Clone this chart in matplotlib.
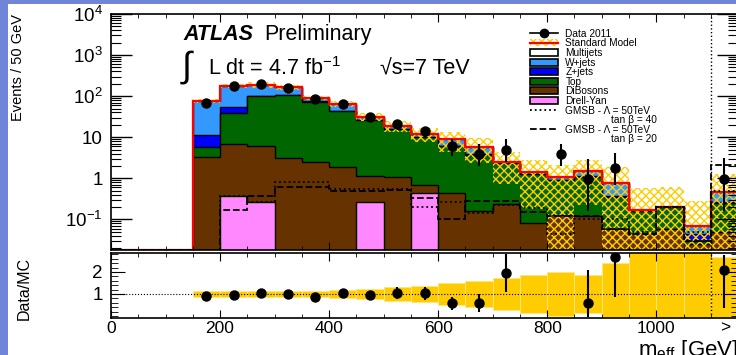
import numpy as np
import matplotlib
matplotlib.use('Agg')
import matplotlib.pyplot as plt
from matplotlib.patches import Patch, Rectangle
from matplotlib.lines import Line2D
from matplotlib.ticker import MultipleLocator, LogLocator, FixedLocator, NullFormatter

plt.rcParams['font.family'] = ['Liberation Sans', 'DejaVu Sans']
plt.rcParams['mathtext.fontset'] = 'custom'
plt.rcParams['mathtext.rm'] = 'Liberation Sans'
plt.rcParams['mathtext.it'] = 'Liberation Sans:italic'
plt.rcParams['mathtext.bf'] = 'Liberation Sans:bold'
plt.rcParams['hatch.linewidth'] = 1.0

nan = np.nan

# m_eff bins of 50 GeV, the last one (1100-1150) is the overflow bin
bin_edges = np.arange(0, 1151, 50)

# MC backgrounds (events per bin)
drell_yan = [0, 0, 0, 0, 0.37, 0.26, 0, 0, 0, 0.26, 0, 0.45, 0, 0, 0, 0, 0, 0, 0, 0, 0, 0, 0]
dibosons = [0, 0, 0, 3.3, 6.6, 5.8, 3.2, 2.55, 1.9, 0.88, 1.07, 0.24, 0.45, 0.16, 0.24, 0.083,
            0.13, 0.12, 0.06, 0.043, 0.06, 0.025, 0.05]
top = [0, 0, 0, 2.6, 33, 95, 105, 71, 42, 25, 14.6, 9.5, 5.65, 3.6, 2.06, 1.17,
       0.76, 0.98, 0.29, 0.117, 0.135, 0.005, 0.2]
zjets = [0, 0, 0, 5.3, 15, 1.5, 1.0, 0.8, 0.5, 0.3, 0.2, 0.15, 0.1, 0.08, 0.05, 0.03,
         0.03, 0.04, 0.02, 0, 0, 0.015, 0.01]
wjets = [0, 0, 0, 66, 123, 86, 54, 18, 19.5, 4.7, 3.1, 1.95, 2.7, 2.1, 0.2, 0.17,
         0.15, 0.36, 0.42, 0.006, 0.005, 0.024, 0.21]
multijets = [0] * 23

# relative uncertainty of the SM prediction
sm_rel_err = [0, 0, 0, 0.13, 0.13, 0.14, 0.13, 0.12, 0.16, 0.22, 0.3, 0.36, 0.5, 0.6, 0.72, 0.88,
              1.0, 0.85, 1.4, 2.5, 2.0, 3.0, 1.66]

# signal points
gmsb_tb40 = [0, 0, 0, 0, 0.37, 0.26, 0.8, 0.8, 0.55, 0.55, 0.56, 0.2, 0.27, 0.14, 0.22, 0.19,
             0.045, 0.1, 0.1, 0.05, 0.2, 0.05, 0.5]
gmsb_tb20 = [0, 0, 0, 0, 0.17, 0.37, 0.6, 0.6, 0.5, 0.5, 0.53, 0.34, 0.1, 0.28, 0.28, 0.15,
             0.12, 0.12, 0.06, 0.045, 0.2, 0.03, 2.1]

# data 2011
data_2011 = [nan, nan, nan, 68, 172, 203, 157, 85, 66, 31, 21, 13.8, 6.1, 4.0, 4.8, nan,
             3.85, 0.95, 1.8, nan, nan, nan, 0.95]
data_err_lo = [0, 0, 0, 8, 13, 14, 12.5, 9, 8, 5.5, 4.5, 3.5, 2.6, 2.0, 2.25, 0,
               1.85, 0.79, 1.1, 0, 0, 0, 0.79]
data_err_hi = [0, 0, 0, 8, 13, 14, 12.5, 9, 8, 5.5, 4.5, 3.7, 2.8, 2.7, 4.1, 0,
               2.85, 1.95, 2.4, 0, 0, 0, 2.25]

# Data/MC
ratio = [nan, nan, nan, 0.91, 0.95, 1.06, 1.0, 0.88, 1.03, 0.95, 1.03, 1.03, 0.58, 0.6, 1.97, nan,
         nan, 0.58, 2.67, nan, nan, nan, 2.09]
ratio_err_lo = [0, 0, 0, 0.1, 0.08, 0.08, 0.08, 0.1, 0.12, 0.15, 0.27, 0.3, 0.3, 0.4, 0.9, 0,
                0, 0.61, 1.79, 0, 0, 0, 1.74]
ratio_err_hi = [0, 0, 0, 0.1, 0.08, 0.08, 0.08, 0.1, 0.12, 0.15, 0.27, 0.3, 0.3, 0.4, 0.85, 0,
                0, 1.5, 1.0, 0, 0, 0, 0.7]

centers = 0.5 * (bin_edges[:-1] + bin_edges[1:])
ymin, ymax = 0.018, 1.0e4

fig = plt.figure(figsize=(7.36, 3.55), dpi=100)
fig.patch.set_facecolor('#7185d8')
fig.add_artist(Rectangle((8 / 736, 0), 1, 351 / 355, transform=fig.transFigure,
                         facecolor='white', edgecolor='none', zorder=-1))

ax = fig.add_axes([0.1508, 0.2958, 0.852, 0.6648])
axr = fig.add_axes([0.1508, 0.1042, 0.852, 0.1831], sharex=ax)

# stacked backgrounds, drawn from the top layer down
comps = np.array([drell_yan, dibosons, top, zjets, wjets, multijets], dtype=float)
colors = ['#ff88ff', '#663300', '#006600', '#0000ff', '#3399ff', 'white']
cum = np.cumsum(comps, axis=0)
for level, c in reversed(list(zip(cum, colors))):
    ax.stairs(level, bin_edges, baseline=0, fill=True, facecolor=c, edgecolor='black', lw=1.0)

total = cum[-1]
err = np.array(sm_rel_err)
ax.stairs(total * (1 + err), bin_edges, baseline=total * (1 - err), fill=True,
          facecolor='none', edgecolor='#ffcc00', hatch='xxxx', lw=0)
ax.stairs(np.clip(total, ymin, None), bin_edges, color='red', lw=1.6)
ax.stairs(np.clip(gmsb_tb40, ymin, None), bin_edges, color='black', ls=':', lw=1.3)
ax.stairs(np.clip(gmsb_tb20, ymin, None), bin_edges, color='black', ls='--', lw=1.3)
ax.axvline(1100, color='black', ls=':', lw=1)

ax.errorbar(centers, data_2011, yerr=[data_err_lo, data_err_hi], fmt='o', color='black',
            ms=6.5, elinewidth=1.5, capsize=0, zorder=5)

ax.set_yscale('log')
ax.set_xlim(0, 1150)
ax.set_ylim(ymin, ymax)
ax.yaxis.set_major_locator(FixedLocator([0.1, 1, 10, 100, 1e3, 1e4]))
ax.set_yticklabels(['10$^{-1}$', '1', '10', '10$^{2}$', '10$^{3}$', '10$^{4}$'])
ax.yaxis.set_minor_locator(LogLocator(subs=np.arange(2, 10), numticks=20))
ax.yaxis.set_minor_formatter(NullFormatter())
ax.xaxis.set_major_locator(MultipleLocator(200))
ax.xaxis.set_minor_locator(MultipleLocator(50))
ax.tick_params(which='both', direction='in', top=True, right=True, labelbottom=False,
               labelsize=13.5)
ax.tick_params(axis='y', which='major', length=15, width=1, pad=6)
ax.tick_params(axis='y', which='minor', length=7, width=0.8)
ax.tick_params(axis='x', which='major', length=6)
ax.tick_params(axis='x', which='minor', length=3)
ax.set_ylabel('Events / 50 GeV', fontsize=10.5, loc='top')
ax.yaxis.set_label_coords(-0.137, 1.0)

ax.text(0.115, 0.89, 'ATLAS', transform=ax.transAxes, fontsize=15.5,
        fontweight='bold', fontstyle='italic', va='baseline')
ax.text(0.245, 0.89, 'Preliminary', transform=ax.transAxes, fontsize=15.5, va='baseline')
ax.text(0.112, 0.775, '\u222b', transform=ax.transAxes, fontsize=26, va='center')
ax.text(0.154, 0.742, 'L dt = 4.7 fb$^{-1}$', transform=ax.transAxes, fontsize=15.5,
        va='baseline')
ax.text(0.429, 0.742, '\u221as=7 TeV', transform=ax.transAxes, fontsize=15.5, va='baseline')

# legend: the second line of the GMSB entries gets its own row with no symbol
no_symbol = Line2D([], [], color='none')
handles = [
    Line2D([], [], color='black', marker='o', ms=6, lw=1.2),
    (Patch(facecolor='none', edgecolor='#ffcc00', hatch='xxxx', lw=0),
     Line2D([], [], color='red', lw=1.6)),
    Patch(facecolor='white', edgecolor='black', lw=1.2),
    Patch(facecolor='#3399ff', edgecolor='black', lw=1.2),
    Patch(facecolor='#0000ff', edgecolor='black', lw=1.2),
    Patch(facecolor='#006600', edgecolor='black', lw=1.2),
    Patch(facecolor='#663300', edgecolor='black', lw=1.2),
    Patch(facecolor='#ff88ff', edgecolor='black', lw=1.2),
    Line2D([], [], color='black', ls=':', lw=1.3),
    no_symbol,
    Line2D([], [], color='black', ls='--', lw=1.3),
    no_symbol,
]
indent = ' ' * 16
labels = ['Data 2011', 'Standard Model', 'Multijets', 'W+jets', 'Z+jets', 'Top', 'DiBosons',
          'Drell-Yan', 'GMSB - \u039b = 50TeV', indent + 'tan \u03b2 = 40',
          'GMSB - \u039b = 50TeV', indent + 'tan \u03b2 = 20']
leg = ax.legend(handles, labels, loc='upper left', bbox_to_anchor=(0.668, 0.937), frameon=False,
                fontsize=7.3, handlelength=2.8, handletextpad=0.7, labelspacing=-0.04,
                borderpad=0, borderaxespad=0, handleheight=0.7)

# ratio panel
has_band = err > 0
axr.bar(centers[has_band], 2 * err[has_band], bottom=1 - err[has_band], width=50,
        color='#ffcc00', edgecolor='#ffe680', linewidth=0.6)
axr.axhline(1, color='black', ls=':', lw=0.8)
axr.axvline(1100, color='black', ls=':', lw=1)
axr.errorbar(centers, ratio, yerr=[ratio_err_lo, ratio_err_hi], fmt='o', color='black',
             ms=6.5, elinewidth=1.5, capsize=0, zorder=5)
axr.set_ylim(-0.09, 2.86)
axr.yaxis.set_major_locator(FixedLocator([1, 2]))
axr.yaxis.set_minor_locator(MultipleLocator(0.2))
axr.tick_params(which='both', direction='in', top=True, right=True, labelsize=12.5)
axr.tick_params(axis='y', which='major', length=10, pad=6, labelsize=13.5)
axr.tick_params(axis='y', which='minor', length=5)
axr.tick_params(axis='x', which='major', length=6, pad=2)
axr.tick_params(axis='x', which='minor', length=3)
axr.text(1127, -0.03, '>', transform=axr.get_xaxis_transform(), fontsize=12.5,
         ha='center', va='top')
axr.set_ylabel('Data/MC', fontsize=11.5)
axr.yaxis.set_label_coords(-0.126, 0.45)
axr.set_xlabel('m$_{\\mathrm{eff}}$ [GeV]', fontsize=16, loc='right')
axr.xaxis.set_label_coords(1.0, -0.3)

for a in (ax, axr):
    for s in a.spines.values():
        s.set_linewidth(1.2)

fig.savefig('out.png', dpi=100, facecolor=fig.get_facecolor())
